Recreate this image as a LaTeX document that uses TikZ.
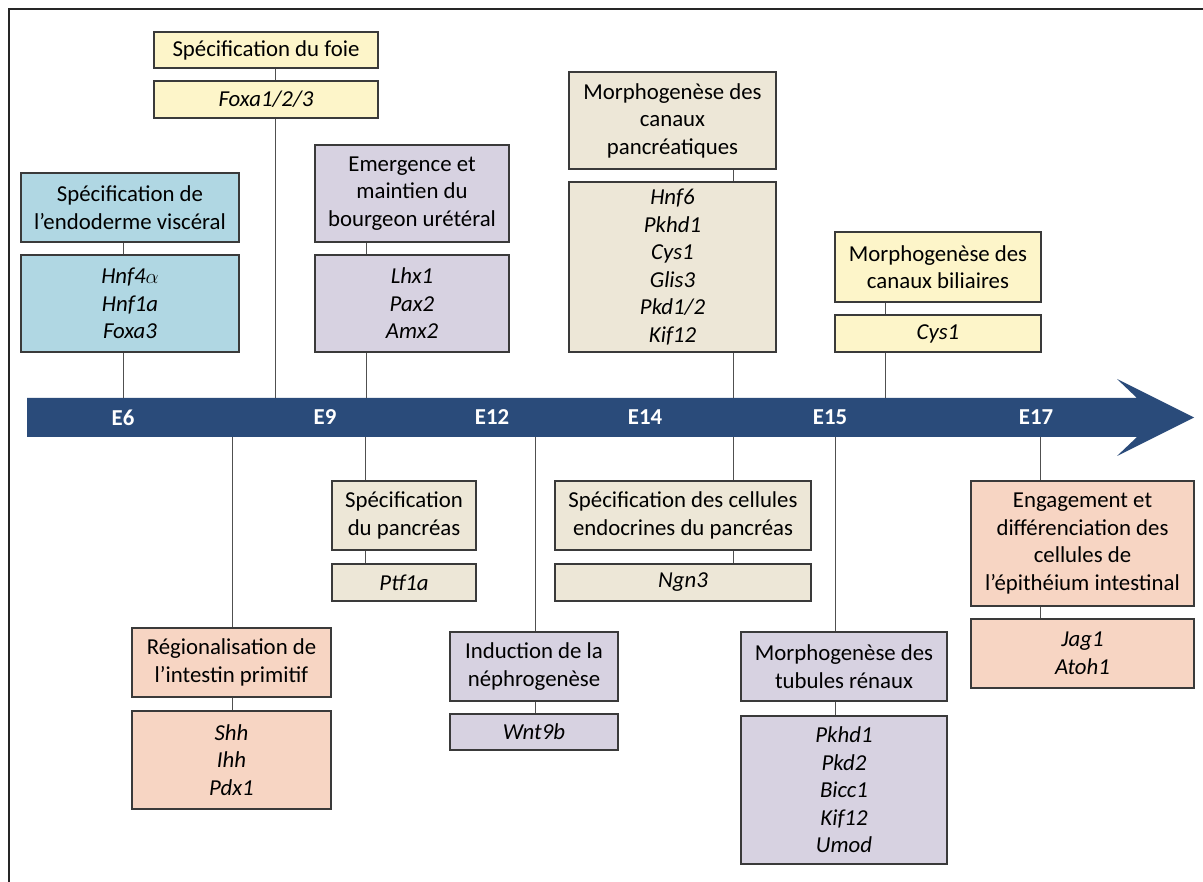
\documentclass[tikz,border=0pt]{standalone}
\usepackage{fontspec}
\setmainfont{Carlito}
\definecolor{cblue}{HTML}{B0D7E3}
\definecolor{cyel}{HTML}{FDF5C9}
\definecolor{cpur}{HTML}{D7D2E1}
\definecolor{cbeige}{HTML}{EDE7D7}
\definecolor{csal}{HTML}{F7D5C3}
\definecolor{cband}{HTML}{2A4B7A}
\definecolor{boxline}{HTML}{3A3A3A}
\definecolor{connline}{HTML}{505050}
\begin{document}
\begin{tikzpicture}[x=1pt,y=-1pt,
  box/.style={draw=boxline, line width=1.3pt, inner sep=0pt, align=center,
    font=\fontsize{22.8}{27.5}\selectfont},
  gene/.style={box, font=\fontsize{22.8}{27.5}\selectfont\itshape},
  conn/.style={draw=connline, line width=1pt},
  elab/.style={text=white, font=\fontsize{22.8}{27}\selectfont\bfseries, inner sep=0pt}]
\useasboundingbox (0,0) rectangle (1203,882);
\fill[white] (0,0) rectangle (1203,882);
% frame
\draw[line width=2pt, draw=black!85] (9,882) -- (9,9) -- (1203,9);
% band arrow
\fill[cband] (27,398) -- (1137,398) -- (1117,379) -- (1194,417.5) -- (1117,456) -- (1137,437) -- (27,437) -- cycle;
\node[elab] (e6) at (123,417.5) {E6};
\node[elab] (e9) at (325,417.5) {E9};
\node[elab] (e12) at (492,417.5) {E12};
\node[elab] (e14) at (645,417.5) {E14};
\node[elab] (e15) at (830,417.5) {E15};
\node[elab] (e17) at (1036,417.5) {E17};
% ---- above the band
\node[box, fill=cyel, minimum width=224, minimum height=36] (foieT) at (266,50) {Spécification du foie};
\node[gene, fill=cyel, minimum width=224, minimum height=37] (foieG) at (266,99.5) {Foxa1/2/3};
\node[box, fill=cblue, minimum width=218, minimum height=69] (endoT) at (130,207.5) {Spécification de\\l’endoderme viscéral};
\node[gene, fill=cblue, minimum width=218, minimum height=97] (endoG) at (130,303.5) {Hnf4\(\alpha\)\\Hnf1a\\Foxa3};
\node[box, fill=cpur, minimum width=194, minimum height=97] (emerT) at (412,193.5) {Emergence et\\maintien du\\bourgeon urétéral};
\node[gene, fill=cpur, minimum width=194, minimum height=97] (emerG) at (412,303.5) {Lhx1\\Pax2\\Amx2};
\node[box, fill=cbeige, minimum width=207, minimum height=97] (pancT) at (672.5,120.5) {Morphogenèse des\\canaux\\pancréatiques};
\node[gene, fill=cbeige, minimum width=207, minimum height=170] (pancG) at (672.5,267) {Hnf6\\Pkhd1\\Cys1\\Glis3\\Pkd1/2\\Kif12};
\node[box, fill=cyel, minimum width=206, minimum height=70] (bilT) at (938,267) {Morphogenèse des\\canaux biliaires};
\node[gene, fill=cyel, minimum width=206, minimum height=37] (bilG) at (938,333.5) {Cys1};
% ---- below the band
\node[box, fill=csal, minimum width=199, minimum height=69] (regT) at (231.5,662.5) {Régionalisation de\\l’intestin primitif};
\node[gene, fill=csal, minimum width=199, minimum height=98] (regG) at (231.5,760) {Shh\\Ihh\\Pdx1};
\node[box, fill=cbeige, minimum width=144, minimum height=69] (pspT) at (404,515.5) {Spécification\\du pancréas};
\node[gene, fill=cbeige, minimum width=144, minimum height=37] (pspG) at (404,582.5) {Ptf1a};
\node[box, fill=cpur, minimum width=168, minimum height=69] (indT) at (534,666.5) {Induction de la\\néphrogenèse};
\node[gene, fill=cpur, minimum width=168, minimum height=36] (indG) at (534,732) {Wnt9b};
\node[box, fill=cbeige, minimum width=256, minimum height=69] (ecT) at (683,515.5) {Spécification des cellules\\endocrines du pancréas};
\node[gene, fill=cbeige, minimum width=256, minimum height=37] (ecG) at (683,582.5) {Ngn3};
\node[box, fill=cpur, minimum width=206, minimum height=69] (tubT) at (844,666.5) {Morphogenèse des\\tubules rénaux};
\node[gene, fill=cpur, minimum width=206, minimum height=148] (tubG) at (844,790) {Pkhd1\\Pkd2\\Bicc1\\Kif12\\Umod};
\node[box, fill=csal, minimum width=223, minimum height=125] (engT) at (1082.5,543.5) {Engagement et\\différenciation des\\cellules de\\l’épithéium intestinal};
\node[gene, fill=csal, minimum width=223, minimum height=69] (engG) at (1082.5,653.5) {Jag1\\Atoh1};
% ---- tick coordinates
\coordinate (k1) at (123,398);
\coordinate (k2) at (275,398);
\coordinate (k3) at (366,398);
\coordinate (k4) at (733,398);
\coordinate (k5) at (885,398);
\coordinate (b1) at (232,437);
\coordinate (b2) at (365,437);
\coordinate (b3) at (535,437);
\coordinate (b4) at (733,437);
\coordinate (b5) at (835,437);
\coordinate (b6) at (1040,437);
% ---- connectors above
\draw[conn] (k1) -- (k1 |- endoG.south);
\draw[conn] (k1 |- endoG.north) -- (k1 |- endoT.south);
\draw[conn] (k2) -- (k2 |- foieG.south);
\draw[conn] (k2 |- foieG.north) -- (k2 |- foieT.south);
\draw[conn] (k3) -- (k3 |- emerG.south);
\draw[conn] (k3 |- emerG.north) -- (k3 |- emerT.south);
\draw[conn] (k4) -- (k4 |- pancG.south);
\draw[conn] (k4 |- pancG.north) -- (k4 |- pancT.south);
\draw[conn] (k5) -- (k5 |- bilG.south);
\draw[conn] (k5 |- bilG.north) -- (k5 |- bilT.south);
% ---- connectors below
\draw[conn] (b1) -- (b1 |- regT.north);
\draw[conn] (b1 |- regT.south) -- (b1 |- regG.north);
\draw[conn] (b2) -- (b2 |- pspT.north);
\draw[conn] (b2 |- pspT.south) -- (b2 |- pspG.north);
\draw[conn] (b3) -- (b3 |- indT.north);
\draw[conn] (b3 |- indT.south) -- (b3 |- indG.north);
\draw[conn] (b4) -- (b4 |- ecT.north);
\draw[conn] (b4 |- ecT.south) -- (b4 |- ecG.north);
\draw[conn] (b5) -- (b5 |- tubT.north);
\draw[conn] (b5 |- tubT.south) -- (b5 |- tubG.north);
\draw[conn] (b6) -- (b6 |- engT.north);
\draw[conn] (b6 |- engT.south) -- (b6 |- engG.north);
\end{tikzpicture}
\end{document}
